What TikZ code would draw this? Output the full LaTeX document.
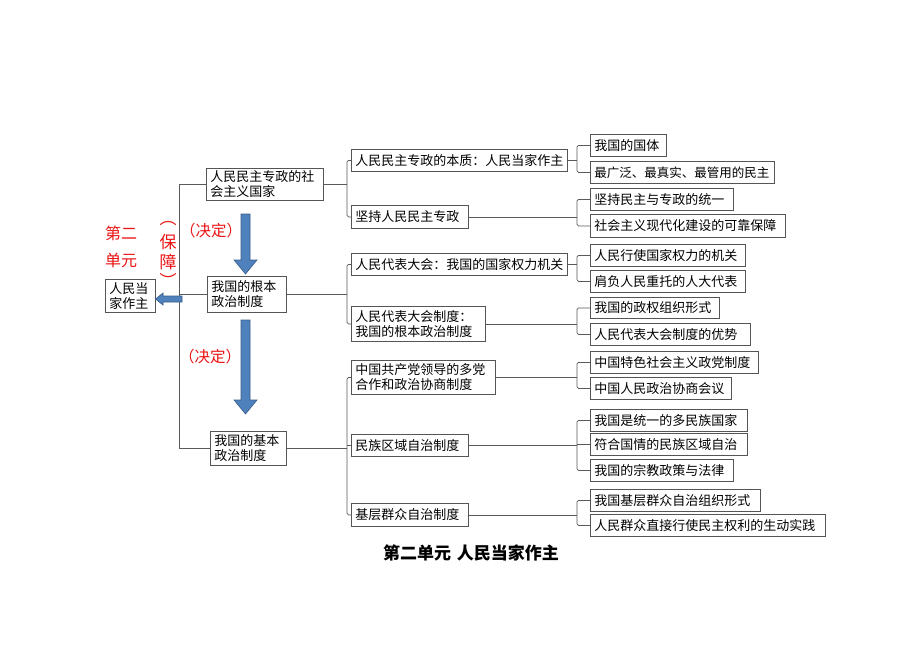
\documentclass[tikz,border=0pt]{standalone}
\usepackage{fontspec}
\newfontfamily\cjk{Noto Sans CJK SC}
\definecolor{boxc}{RGB}{85,85,85}
\definecolor{linec}{RGB}{90,90,90}
\definecolor{arrowfill}{RGB}{79,129,189}
\definecolor{arrowdraw}{RGB}{56,93,138}
\definecolor{redc}{RGB}{235,20,20}
\tikzset{
  box/.style={draw=boxc, line width=0.8pt, anchor=north west, inner xsep=4pt, inner ysep=0pt,
    align=left, font=\cjk\fontsize{13}{15}\selectfont, text=black},
  link/.style={draw=linec, line width=0.8pt},
  brk/.style={draw=linec, line width=0.8pt, rounded corners=1.5pt},
  redt/.style={text=redc, font=\cjk\fontsize{16}{18}\selectfont, inner sep=0pt},
  barrow/.style={fill=arrowfill, draw=arrowdraw, line width=0.6pt}
}
\begin{document}
\begin{tikzpicture}[x=1pt,y=-1pt]
\useasboundingbox[fill=white] (0,0) rectangle (920,651);

% root and level 1
\node[box, text width=42pt, minimum height=33pt] (R) at (105,279) {人民当\\家作主};
\node[box, text width=109pt, minimum height=32pt] (B1) at (206,168) {人民民主专政的社\\会主义国家};
\node[box, text width=71pt, minimum height=36pt] (B2) at (207,276) {我国的根本\\政治制度};
\node[box, text width=68pt, minimum height=34pt] (B3) at (210,431) {我国的基本\\政治制度};

% level 2
\node[box, text width=208pt, minimum height=22pt] (C1) at (351,149) {人民民主专政的本质：人民当家作主};
\node[box, text width=109pt, minimum height=23pt] (C2) at (351,205) {坚持人民民主专政};
\node[box, text width=208pt, minimum height=22pt] (C3) at (351,253) {人民代表大会：我国的国家权力机关};
\node[box, text width=126pt, minimum height=35pt] (C4) at (351,306) {人民代表大会制度：\\我国的根本政治制度};
\node[box, text width=136pt, minimum height=34pt] (C5) at (351,360) {中国共产党领导的多党\\合作和政治协商制度};
\node[box, text width=109pt, minimum height=22pt] (C6) at (351,434) {民族区域自治制度};
\node[box, text width=109pt, minimum height=23pt] (C7) at (351,503) {基层群众自治制度};

% level 3
\node[box, text width=68pt, minimum height=22pt] (D1) at (590,134) {我国的国体};
\node[box, text width=176pt, minimum height=22pt, font=\cjk\fontsize{12.5}{15}\selectfont] (D2) at (590,161) {最广泛、最真实、最管用的民主};
\node[box, text width=135pt, minimum height=22pt] (D3) at (590,188) {坚持民主与专政的统一};
\node[box, text width=187pt, minimum height=23pt] (D4) at (590,214) {社会主义现代化建设的可靠保障};
\node[box, text width=147pt, minimum height=22pt] (D5) at (590,244) {人民行使国家权力的机关};
\node[box, text width=147pt, minimum height=22pt] (D6) at (590,270) {肩负人民重托的人大代表};
\node[box, text width=121pt, minimum height=21pt] (D7) at (590,297) {我国的政权组织形式};
\node[box, text width=152pt, minimum height=22pt] (D8) at (590,323) {人民代表大会制度的优势};
\node[box, text width=160pt, minimum height=22pt] (D9) at (590,351) {中国特色社会主义政党制度};
\node[box, text width=133pt, minimum height=22pt] (D10) at (590,377) {中国人民政治协商会议};
\node[box, text width=149pt, minimum height=22pt] (D11) at (590,409) {我国是统一的多民族国家};
\node[box, text width=149pt, minimum height=22pt] (D12) at (590,433) {符合国情的民族区域自治};
\node[box, text width=135pt, minimum height=22pt] (D13) at (590,459) {我国的宗教政策与法律};
\node[box, text width=162pt, minimum height=22pt] (D14) at (590,489) {我国基层群众自治组织形式};
\node[box, text width=227pt, minimum height=22pt] (D15) at (590,514) {人民群众直接行使民主权利的生动实践};

% spine coordinates
\coordinate (sp) at (179,0);
\coordinate (k) at (347,0);
\coordinate (m) at (577,0);

% left spine
\draw[link] (B1.west) -| (sp |- B3.west) -- (B3.west);
\draw[link] (B2.west) -- (sp |- B2.west);

% level 1 -> level 2
\draw[link] (B1.east) -- (k |- B1.east);
\draw[brk] (C1.west) -| (k |- C2.west) -- (C2.west);
\draw[link] (B2.east) -- (k |- B2.east);
\draw[brk] (C3.west) -| (k |- C4.west) -- (C4.west);
\draw[link] (B3.east) -- (k |- B3.east);
\draw[brk] (C5.west) -| (k |- C7.west) -- (C7.west);
\draw[link] (C6.west) -- (k |- C6.west);

% level 2 -> level 3
\draw[link] (C1.east) -- (m |- C1.east);
\draw[brk] (D1.west) -| (m |- D2.west) -- (D2.west);
\draw[link] (C2.east) -- (m |- C2.east);
\draw[brk] (D3.west) -| (m |- D4.west) -- (D4.west);
\draw[link] (C3.east) -- (m |- C3.east);
\draw[brk] (D5.west) -| (m |- D6.west) -- (D6.west);
\draw[link] (C4.east) -- (m |- C4.east);
\draw[brk] (D7.west) -| (m |- D8.west) -- (D8.west);
\draw[link] (C5.east) -- (m |- C5.east);
\draw[brk] (D9.west) -| (m |- D10.west) -- (D10.west);
\draw[link] (C6.east) -- (m |- C6.east);
\draw[brk] (D11.west) -| (m |- D13.west) -- (D13.west);
\draw[link] (D12.west) -- (m |- D12.west);
\draw[link] (C7.east) -- (m |- C7.east);
\draw[brk] (D14.west) -| (m |- D15.west) -- (D15.west);

% blue arrows
\draw[barrow] (241,214) -- (250,214) -- (250,260) -- (257,260) -- (245.5,274) -- (234,260) -- (241,260) -- cycle;
\draw[barrow] (241,320) -- (250,320) -- (250,400) -- (257,400) -- (245.5,414) -- (234,400) -- (241,400) -- cycle;
\draw[barrow] (182,296) -- (163,296) -- (163,293) -- (155.5,299) -- (163,305) -- (163,302) -- (182,302) -- cycle;

% red labels
\node[redt] (u1) at (121,233) {第二};
\node[redt] (u2) at (121,260) {单元};
\node[redt, font=\cjk\fontsize{17}{18}\selectfont] (p1) at (168,224) {︵};
\node[redt, font=\cjk\fontsize{17}{18}\selectfont] (p2) at (168,242) {保};
\node[redt, font=\cjk\fontsize{17}{18}\selectfont] (p3) at (168,262) {障};
\node[redt, font=\cjk\fontsize{17}{18}\selectfont] (p4) at (168,280) {︶};
\node[redt, font=\cjk\fontsize{15.5}{18}\selectfont] (j1) at (211,231) {（决定）};
\node[redt, font=\cjk\fontsize{15.5}{18}\selectfont] (j2) at (210,357) {（决定）};

% caption
\node[inner sep=0pt, font=\cjk\bfseries\fontsize{17}{18}\selectfont] (cap) at (471,553) {第二单元\hspace{6pt}人民当家作主};
\end{tikzpicture}
\end{document}
